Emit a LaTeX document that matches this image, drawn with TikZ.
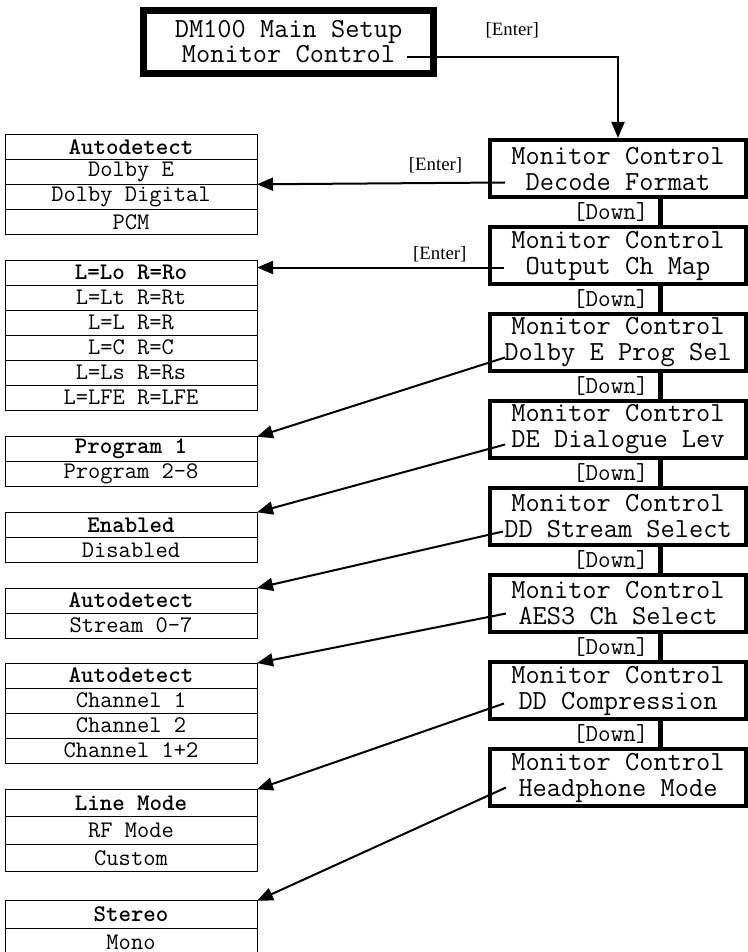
\documentclass[tikz,border=0pt]{standalone}
\usepackage{fontspec}
\setmainfont{Liberation Serif}
\usetikzlibrary{positioning,arrows.meta}

\begin{document}
\begin{tikzpicture}[x=0.5pt,y=-0.5pt,
  mainbox/.style={draw,line width=3.5pt,minimum width=145pt,minimum height=31.5pt,inner sep=0pt,align=center,font=\ttfamily\fontsize{13.8}{12.5}\selectfont},
  screen/.style={draw,line width=2pt,minimum width=128pt,minimum height=28.5pt,inner sep=0pt,align=center,font=\ttfamily\fontsize{13.8}{13}\selectfont},
  cell/.style={draw,line width=0.5pt,minimum width=126pt,minimum height=12.5pt,inner sep=0pt,outer sep=0pt,font=\ttfamily\fontsize{11.9}{12}\selectfont},
  tallcell/.style={cell,minimum height=13.7pt},
  dflt/.style={font=\ttfamily\bfseries\fontsize{11.9}{12}\selectfont},
  arr/.style={line width=1pt,-{Triangle[length=8pt,width=6.5pt]}},
  downlink/.style={line width=2.5pt},
  downkey/.style={left,inner sep=4.5pt,font=\ttfamily\fontsize{12.2}{12}\selectfont},
  enterkey/.style={inner sep=0pt,font=\fontsize{9.4}{11}\selectfont}]
  \useasboundingbox (0,0) rectangle (748,952);
  % main menu entry
  \node[mainbox] (top) at (288.5,42) {DM100 Main Setup\\Monitor Control};
  \coordinate (tstart) at ([xshift=59pt,yshift=-7.5pt]top.center);
  % monitor control screens
  \node[screen] (b1) at (618,168.5) {Monitor Control\\Decode Format};
  \node[screen,below=13pt of b1] (b2) {Monitor Control\\Output Ch Map};
  \node[screen,below=13pt of b2] (b3) {Monitor Control\\Dolby E Prog Sel};
  \node[screen,below=13pt of b3] (b4) {Monitor Control\\DE Dialogue Lev};
  \node[screen,below=13pt of b4] (b5) {Monitor Control\\DD Stream Select};
  \node[screen,below=13pt of b5] (b6) {Monitor Control\\AES3 Ch Select};
  \node[screen,below=13pt of b6] (b7) {Monitor Control\\DD Compression};
  \node[screen,below=13pt of b7] (b8) {Monitor Control\\Headphone Mode};
  \coordinate (e1) at ([xshift=8.5pt,yshift=-7pt]b1.west);
  \coordinate (e2) at ([xshift=8pt,yshift=-6pt]b2.west);
  \coordinate (e3) at ([xshift=8.5pt,yshift=-7.5pt]b3.west);
  \coordinate (e4) at ([xshift=8.5pt,yshift=-7.5pt]b4.west);
  \coordinate (e5) at ([xshift=7.5pt,yshift=-7.5pt]b5.west);
  \coordinate (e6) at ([xshift=9pt,yshift=-5pt]b6.west);
  \coordinate (e7) at ([xshift=8pt,yshift=-6.5pt]b7.west);
  \coordinate (e8) at ([xshift=9pt,yshift=-5pt]b8.west);
  % option tables
  \node[cell,dflt] (t1a) at (131,146.8) {Autodetect};
  \node[cell,below=0pt of t1a] (t1b) {Dolby E};
  \node[cell,below=0pt of t1b] (t1c) {Dolby Digital};
  \node[cell,below=0pt of t1c] (t1d) {PCM};
  \node[cell,dflt] (t2a) at (131,272.7) {L=Lo R=Ro};
  \node[cell,below=0pt of t2a] (t2b) {L=Lt R=Rt};
  \node[cell,below=0pt of t2b] (t2c) {L=L R=R};
  \node[cell,below=0pt of t2c] (t2d) {L=C R=C};
  \node[cell,below=0pt of t2d] (t2e) {L=Ls R=Rs};
  \node[cell,below=0pt of t2e] (t2f) {L=LFE R=LFE};
  \node[cell,dflt] (t3a) at (131,449.2) {Program 1};
  \node[cell,below=0pt of t3a] (t3b) {Program 2\textendash8};
  \node[cell,dflt] (t4a) at (131,524.8) {Enabled};
  \node[cell,below=0pt of t4a] (t4b) {Disabled};
  \node[cell,dflt] (t5a) at (131,600.5) {Autodetect};
  \node[cell,below=0pt of t5a] (t5b) {Stream 0\textendash7};
  \node[cell,dflt] (t6a) at (131,675.5) {Autodetect};
  \node[cell,below=0pt of t6a] (t6b) {Channel 1};
  \node[cell,below=0pt of t6b] (t6c) {Channel 2};
  \node[cell,below=0pt of t6c] (t6d) {Channel 1+2};
  \node[tallcell,dflt] (t7a) at (131,803) {Line Mode};
  \node[tallcell,below=0pt of t7a] (t7b) {RF Mode};
  \node[tallcell,below=0pt of t7b] (t7c) {Custom};
  \node[tallcell,dflt] (t8a) at (131,914.5) {Stereo};
  \node[tallcell,below=0pt of t8a] (t8b) {Mono};
  % [Down] links
  \draw[downlink] ([xshift=21pt]b1.south) -- ([xshift=21pt]b2.north) node[midway,downkey] {[Down]};
  \draw[downlink] ([xshift=21pt]b2.south) -- ([xshift=21pt]b3.north) node[midway,downkey] {[Down]};
  \draw[downlink] ([xshift=21pt]b3.south) -- ([xshift=21pt]b4.north) node[midway,downkey] {[Down]};
  \draw[downlink] ([xshift=21pt]b4.south) -- ([xshift=21pt]b5.north) node[midway,downkey] {[Down]};
  \draw[downlink] ([xshift=21pt]b5.south) -- ([xshift=21pt]b6.north) node[midway,downkey] {[Down]};
  \draw[downlink] ([xshift=21pt]b6.south) -- ([xshift=21pt]b7.north) node[midway,downkey] {[Down]};
  \draw[downlink] ([xshift=21pt]b7.south) -- ([xshift=21pt]b8.north) node[midway,downkey] {[Down]};
  % [Enter] links
  \draw[arr] (tstart) -| (b1.north) node[pos=0.25,above=9pt,enterkey] {[Enter]};
  \draw[arr] (e1) -- (t1b.south east) node[pos=0.28,above=4.3pt,enterkey] {[Enter]};
  \draw[arr] (e2) -- (e2 -| t2a.east) node[pos=0.26,above=2.1pt,enterkey] {[Enter]};
  \draw[arr] (e3) -- (t3a.north east);
  \draw[arr] (e4) -- (t4a.north east);
  \draw[arr] (e5) -- (t5a.north east);
  \draw[arr] (e6) -- (t6a.north east);
  \draw[arr] (e7) -- (t7a.north east);
  \draw[arr] (e8) -- (t8a.north east);
\end{tikzpicture}
\end{document}
